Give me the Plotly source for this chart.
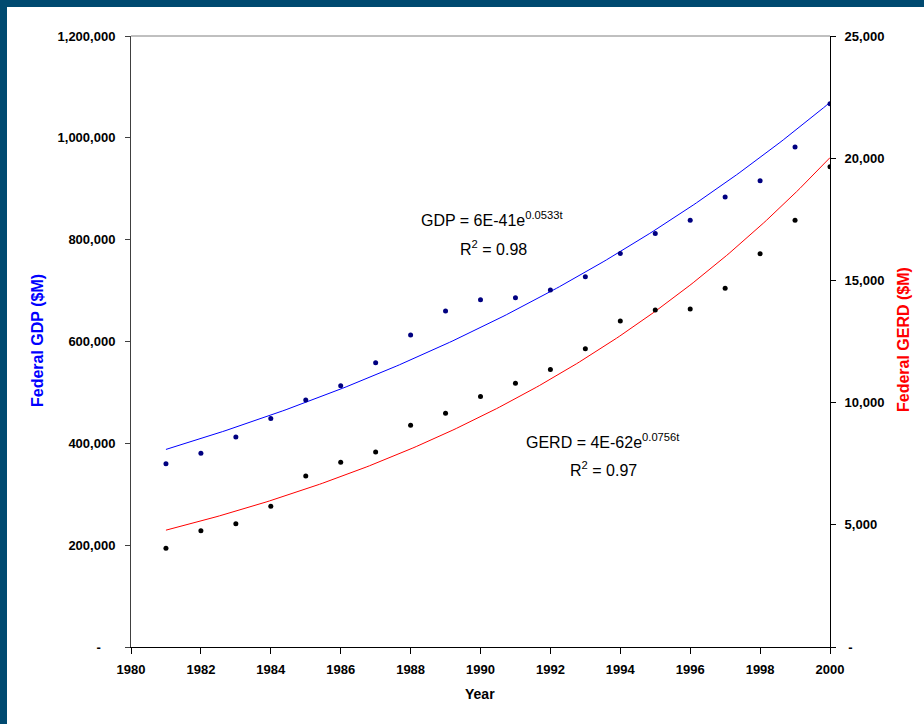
import numpy as np
import plotly.graph_objects as go

# ---- data ----
years = list(range(1981, 2001))
gdp = [360000, 380500, 412600, 449000, 485000, 513000, 558500, 613000, 660000, 682000,
       686000, 701000, 727000, 772700, 812000, 838000, 884000, 915500, 982000, 1066800]
gerd = [4040, 4760, 5045, 5755, 7000, 7556, 7980, 9070, 9560, 10250,
        10790, 11350, 12200, 13340, 13790, 13830, 14680, 16090, 17460, 19650]

x_ticks = list(range(1980, 2001, 2))
NB = "\u00a0"
gdp_ticks = [0, 200000, 400000, 600000, 800000, 1000000, 1200000]
gdp_ticktext = ["-" + NB * 4, "200,000", "400,000", "600,000", "800,000", "1,000,000", "1,200,000"]
gerd_ticks = [0, 5000, 10000, 15000, 20000, 25000]
gerd_ticktext = [NB + "-", "5,000", "10,000", "15,000", "20,000", "25,000"]

gdp_eq = "GDP = 6E-41e<sup>0.0533t</sup>"
gdp_r2 = "R<sup>2</sup> = 0.98"
gerd_eq = "GERD = 4E-62e<sup>0.0756t</sup>"
gerd_r2 = "R<sup>2</sup> = 0.97"

# ---- exponential trend lines (least squares on log values, as Excel does) ----
t = np.linspace(years[0], years[-1], 200)
g_fit = np.polyfit(years, np.log(gdp), 1)
r_fit = np.polyfit(years, np.log(gerd), 1)
gdp_trend = np.exp(np.polyval(g_fit, t))
gerd_trend = np.exp(np.polyval(r_fit, t))

# ---- layout helpers ----
W, H = 924, 724
L, R, T, B = 131, 830, 36, 647


def px(xp):
    return (xp - L) / (R - L)


def py(yp):
    return (B - yp) / (B - T)


SANS = "Liberation Sans, Arial"
TICKFONT = dict(family=SANS, size=13, color="black", weight="bold")

fig = go.Figure()
fig.add_trace(go.Scatter(x=t, y=gdp_trend, mode="lines", line=dict(color="#0000ff", width=1),
                         hoverinfo="skip", showlegend=False))
fig.add_trace(go.Scatter(x=t, y=gerd_trend, mode="lines", line=dict(color="#ff0000", width=1),
                         yaxis="y2", hoverinfo="skip", showlegend=False))
fig.add_trace(go.Scatter(x=years, y=gdp, mode="markers", name="GDP",
                         marker=dict(color="#000080", size=5, symbol="circle"), showlegend=False))
fig.add_trace(go.Scatter(x=years, y=gerd, mode="markers", name="GERD", yaxis="y2",
                         marker=dict(color="black", size=5, symbol="circle"), showlegend=False))

ann = []
for txt, xx, yy in [(gdp_eq, 492, 219), (gdp_r2, 493, 248), (gerd_eq, 603, 441), (gerd_r2, 603, 469)]:
    ann.append(dict(text=txt, x=px(xx), y=py(yy), xref="paper", yref="paper", showarrow=False,
                    xanchor="center", yanchor="middle",
                    font=dict(family=SANS, size=16, color="black")))
ann.append(dict(text="<b>Federal GDP ($M)</b>", x=px(37), y=py(341), xref="paper", yref="paper",
                showarrow=False, textangle=-90, xanchor="center", yanchor="middle",
                font=dict(family=SANS, size=16, color="#0000ff")))
ann.append(dict(text="<b>Federal GERD ($M)</b>", x=px(903), y=py(340), xref="paper", yref="paper",
                showarrow=False, textangle=-90, xanchor="center", yanchor="middle",
                font=dict(family=SANS, size=16, color="#ff0000")))
ann.append(dict(text="<b>Year</b>", x=px(480), y=py(694), xref="paper", yref="paper",
                showarrow=False, xanchor="center", yanchor="middle",
                font=dict(family=SANS, size=14, color="black")))

shapes = [
    dict(type="line", xref="paper", yref="paper", x0=0, x1=1, y0=1, y1=1,
         line=dict(color="#808080", width=1), layer="above"),
    dict(type="rect", xref="paper", yref="paper", x0=px(0), x1=px(W), y0=py(0), y1=py(7),
         fillcolor="#004a70", line=dict(width=0), layer="above"),
    dict(type="rect", xref="paper", yref="paper", x0=px(0), x1=px(7), y0=py(0), y1=py(H),
         fillcolor="#004a70", line=dict(width=0), layer="above"),
]

fig.update_layout(
    width=W, height=H,
    margin=dict(l=L, r=W - R, t=T, b=H - B, pad=0),
    paper_bgcolor="white", plot_bgcolor="white",
    showlegend=False,
    annotations=ann, shapes=shapes,
    xaxis=dict(range=[1980, 2000], tickvals=x_ticks, ticks="outside", ticklen=6, tickcolor="black",
               showline=True, linecolor="black", linewidth=1, showgrid=False, zeroline=False,
               ticklabelstandoff=4, tickfont=TICKFONT, fixedrange=True),
    yaxis=dict(range=[0, 1200000], tickvals=gdp_ticks, ticktext=gdp_ticktext, ticks="outside",
               ticklen=5, tickcolor="#404040", showline=True, linecolor="#404040", linewidth=1,
               showgrid=False, zeroline=False, ticklabelstandoff=7, tickfont=TICKFONT),
    yaxis2=dict(range=[0, 25000], tickvals=gerd_ticks, ticktext=gerd_ticktext, overlaying="y",
                side="right", ticks="outside", ticklen=5, tickcolor="black", showline=True,
                linecolor="black", linewidth=1, showgrid=False, zeroline=False,
                ticklabelstandoff=6, tickfont=TICKFONT),
)

fig.write_html("out.html")
